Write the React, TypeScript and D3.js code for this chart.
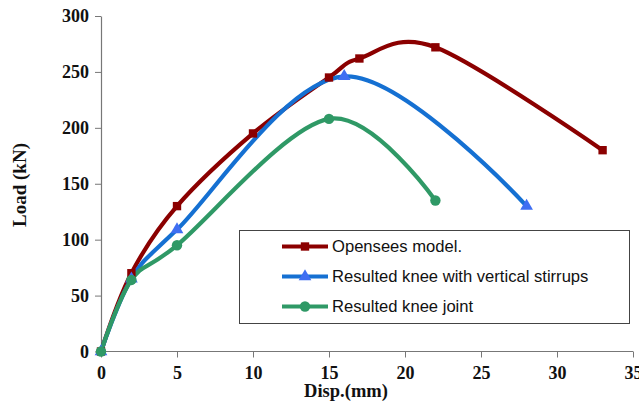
import React, { useEffect, useRef } from "react";
import * as d3 from "d3";

// values
const opXs = [0, 2, 5, 10, 15, 17, 22, 33];
const opYs = [0, 70, 130, 195, 245, 262, 272, 180];
const vsXs = [0, 2, 5, 16, 28];
const vsYs = [0, 65, 109, 246, 130];
const kjXs = [0, 2, 5, 15, 22];
const kjYs = [0, 64, 95, 208, 135];
const xTicks = [0, 5, 10, 15, 20, 25, 30, 35];
const yTicks = [0, 50, 100, 150, 200, 250, 300];
const seriesNames = [
  "Opensees model.",
  "Resulted knee with vertical stirrups",
  "Resulted knee joint",
];

const W = 639;
const H = 405;

function App() {
  const svgRef = useRef<SVGSVGElement>(null);

  useEffect(() => {
    const svg = d3.select(svgRef.current);
    svg.selectAll("*").remove();

    const x = d3.scaleLinear().domain([0, 35]).range([101, 633]);
    const y = d3.scaleLinear().domain([0, 300]).range([351.5, 16]);

    const series = [
      { name: seriesNames[0], xs: opXs, ys: opYs, line: "#8B0000", fill: "#8B0000", shape: "square" },
      { name: seriesNames[1], xs: vsXs, ys: vsYs, line: "#1570D2", fill: "#3F6EF2", shape: "triangle" },
      { name: seriesNames[2], xs: kjXs, ys: kjYs, line: "#2F9966", fill: "#2F9966", shape: "circle" },
    ];

    // axes
    const xAxis = svg.append("g")
      .attr("transform", `translate(0,${y(0)})`)
      .call(d3.axisBottom(x).tickValues(xTicks).tickSizeOuter(0).tickSizeInner(6).tickPadding(6));
    const yAxis = svg.append("g")
      .attr("transform", `translate(${x(0)},0)`)
      .call(d3.axisLeft(y).tickValues(yTicks).tickSizeOuter(0).tickSizeInner(6).tickPadding(6));

    [xAxis, yAxis].forEach((g) => {
      g.select(".domain").attr("stroke", "#777").attr("stroke-width", 1.2);
      g.selectAll(".tick line").attr("stroke", "#777");
      g.selectAll(".tick text")
        .attr("fill", "#111")
        .style("font-family", "'Liberation Serif', 'Times New Roman', serif")
        .style("font-weight", "bold")
        .style("font-size", "18px");
    });
    xAxis.select(".domain").attr("d", `M${x(0)},0H${x(35)}`);
    xAxis.selectAll(".tick text").attr("dy", "0.85em");

    const sym = (shape: string, size: number) => {
      const t = shape === "square" ? d3.symbolSquare : shape === "triangle" ? d3.symbolTriangle : d3.symbolCircle;
      return d3.symbol().type(t).size(size)();
    };

    // lines
    series.forEach((s) => {
      const pts: [number, number][] = s.xs.map((v, i) => [x(v), y(s.ys[i])]);
      svg.append("path")
        .attr("d", d3.line().curve(d3.curveCardinal.tension(0))(pts))
        .attr("fill", "none")
        .attr("stroke", s.line)
        .attr("stroke-width", 4.2);
    });
    series.forEach((s) => {
      s.xs.forEach((v, i) => {
        svg.append("path")
          .attr("d", sym(s.shape, s.shape === "circle" ? 85 : 70))
          .attr("transform", `translate(${x(v)},${y(s.ys[i])})`)
          .attr("fill", s.fill);
      });
    });

    // legend
    const lg = svg.append("g");
    lg.append("rect")
      .attr("x", 239.5).attr("y", 230.5).attr("width", 390).attr("height", 93)
      .attr("fill", "white").attr("stroke", "#444").attr("stroke-width", 1);
    const rowY = [246.5, 276.5, 306.5];
    series.forEach((s, i) => {
      lg.append("line")
        .attr("x1", 282).attr("x2", 328).attr("y1", rowY[i]).attr("y2", rowY[i])
        .attr("stroke", s.line).attr("stroke-width", 4.2);
      lg.append("path")
        .attr("d", sym(s.shape, s.shape === "circle" ? 85 : 70))
        .attr("transform", `translate(305,${rowY[i]})`)
        .attr("fill", s.fill);
      lg.append("text")
        .attr("x", 332).attr("y", rowY[i]).attr("dy", "0.35em")
        .style("font-family", "'Liberation Sans', Arial, sans-serif")
        .style("font-size", "16.6px")
        .attr("fill", "#111")
        .text(s.name);
    });

    // axis titles
    svg.append("text")
      .attr("x", 346).attr("y", 397)
      .attr("text-anchor", "middle")
      .style("font-family", "'Liberation Serif', 'Times New Roman', serif")
      .style("font-weight", "bold").style("font-size", "18.5px")
      .attr("fill", "#111")
      .text("Disp.(mm)");
    svg.append("text")
      .attr("transform", "translate(26,185) rotate(-90)")
      .attr("text-anchor", "middle")
      .style("font-family", "'Liberation Serif', 'Times New Roman', serif")
      .style("font-weight", "bold").style("font-size", "19px")
      .attr("fill", "#111")
      .text("Load (kN)");
  }, []);

  return (
    <svg
      ref={svgRef}
      width={W}
      height={H}
      style={{ position: "absolute", left: 0, top: 0, background: "white" }}
    />
  );
}

export default App;
